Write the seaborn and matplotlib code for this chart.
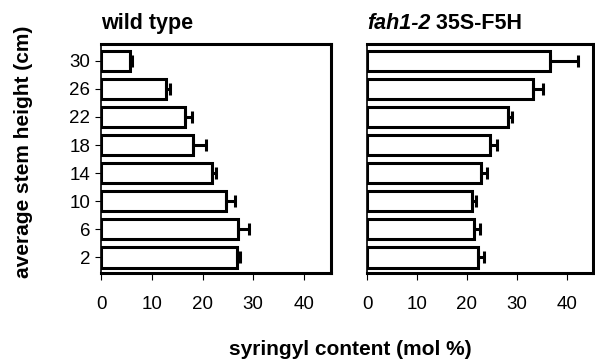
import matplotlib
matplotlib.use("Agg")
import matplotlib.pyplot as plt
import seaborn as sns
import pandas as pd
import numpy as np

# stem heights (cm), top to bottom as in the figure
heights = ["30", "26", "22", "18", "14", "10", "6", "2"]

# syringyl content (mol %) and upper error (SD)
wt_mean = [5.6, 12.8, 16.6, 18.2, 21.8, 24.6, 26.9, 26.7]
wt_err = [0.5, 0.7, 1.3, 2.5, 0.8, 1.8, 2.3, 0.6]
f5h_mean = [36.6, 33.2, 28.2, 24.7, 22.9, 21.1, 21.4, 22.2]
f5h_err = [5.7, 2.1, 0.8, 1.4, 1.1, 0.7, 1.2, 1.2]

sns.set_style("white")
plt.rcParams["font.family"] = ["Liberation Sans", "DejaVu Sans"]
plt.rcParams["text.color"] = "black"
plt.rcParams["axes.labelcolor"] = "black"
plt.rcParams["xtick.color"] = "black"
plt.rcParams["ytick.color"] = "black"

fig = plt.figure(figsize=(5.95, 3.6), dpi=100)
ax1 = fig.add_axes([0.170, 0.242, 0.386, 0.636])
ax2 = fig.add_axes([0.617, 0.242, 0.380, 0.636])

def draw_panel(ax, means, errs):
    df = pd.DataFrame({"height": heights, "syr": means})
    sns.barplot(data=df, x="syr", y="height", order=heights, ax=ax,
                color="white", edgecolor="black", linewidth=2.2, width=0.72,
                errorbar=None)
    pos = np.arange(len(heights))
    ax.errorbar(means, pos, xerr=[np.zeros(len(errs)), errs], fmt="none",
                ecolor="black", elinewidth=2.2, capsize=4, capthick=2.2, zorder=5)
    ax.set_xlim(0, 45.3)
    ax.set_ylim(len(heights) - 0.45, -0.6)
    ax.set_xticks([0, 10, 20, 30, 40])
    ax.set_xlabel("")
    ax.set_ylabel("")
    for s in ax.spines.values():
        s.set_visible(True)
        s.set_color("black")
        s.set_linewidth(2.2)
    ax.spines["left"].set_linewidth(1.2)
    ax.tick_params(axis="x", direction="out", length=5, width=0.8, pad=12,
                   labelsize=13.5, bottom=True, colors="black")

draw_panel(ax1, wt_mean, wt_err)
draw_panel(ax2, f5h_mean, f5h_err)

ax1.tick_params(axis="y", direction="out", length=4, width=0.8, pad=4,
                labelsize=13.5, left=True, colors="black")
ax2.tick_params(axis="y", left=False, labelleft=False)

ax1.set_title("wild type", loc="left", fontsize=15.5, fontweight="bold", pad=11)
t = ax2.set_title("fah1-2", loc="left", fontsize=15.5, fontweight="bold",
                  fontstyle="italic", pad=11)
suffix = ax2.text(0.0, 1.0, " 35S-F5H", transform=ax2.transAxes, fontsize=15.5,
                  fontweight="bold", ha="left", va="bottom")
# position the suffix right after the italic part
fig.canvas.draw()
bb = t.get_window_extent()
inv = ax2.transAxes.inverted()
x_end, y0 = inv.transform((bb.x1, bb.y0))
suffix.set_position((x_end, y0))

fig.text(0.039, 0.578, "average stem height (cm)", rotation=90, ha="center",
         va="center", fontsize=15, fontweight="bold")
fig.text(0.588, 0.028, "syringyl content (mol %)", ha="center", va="center",
         fontsize=15, fontweight="bold")

fig.savefig("out.png", dpi=100)
